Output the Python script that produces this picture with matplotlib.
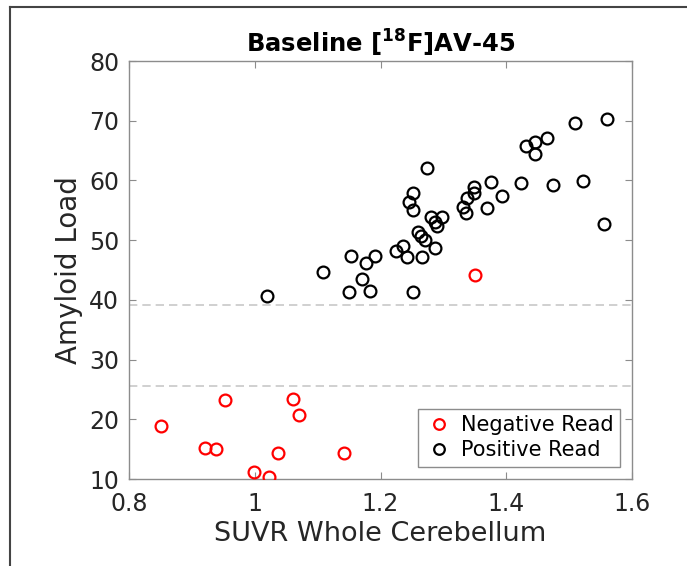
import matplotlib
matplotlib.use('Agg')
import matplotlib.pyplot as plt
from matplotlib.lines import Line2D

# SUVR / amyloid load values
neg_suvr = [0.851, 0.953, 1.061, 1.071, 0.921, 0.938, 1.037, 1.142, 0.999, 1.023, 1.351]
neg_load = [18.9, 23.3, 23.4, 20.7, 15.2, 15.1, 14.4, 14.4, 11.2, 10.4, 44.2]

pos_suvr = [1.019, 1.108, 1.153, 1.177, 1.192, 1.170, 1.150, 1.183,
            1.225, 1.235, 1.242, 1.251, 1.245, 1.252, 1.251, 1.274,
            1.259, 1.265, 1.270, 1.266, 1.287, 1.280, 1.286, 1.290,
            1.298, 1.331, 1.336, 1.337, 1.349, 1.349, 1.369, 1.376,
            1.393, 1.423, 1.432, 1.446, 1.446, 1.464, 1.474, 1.510,
            1.522, 1.556, 1.560]
pos_load = [40.7, 44.7, 47.4, 46.1, 47.4, 43.5, 41.3, 41.5,
            48.2, 49.1, 47.1, 41.4, 56.4, 57.9, 55.1, 62.1,
            51.3, 50.7, 50.1, 47.2, 48.7, 53.9, 53.1, 52.3,
            53.9, 55.5, 54.5, 57.1, 58.9, 57.9, 55.4, 59.8,
            57.4, 59.6, 65.8, 66.4, 64.4, 67.1, 59.2, 69.6,
            59.9, 52.7, 70.3]

thresholds = [39.1, 25.6]
xticks = [0.8, 1.0, 1.2, 1.4, 1.6]
xtick_labels = ['0.8', '1', '1.2', '1.4', '1.6']
yticks = [10, 20, 30, 40, 50, 60, 70, 80]

text_col = '#262626'
axis_col = '#8c8c8c'

fig = plt.figure(figsize=(6.87, 5.66), dpi=100)
ax = fig.add_axes([0.1878, 0.1537, 0.7322, 0.7385])

for t in thresholds:
    ax.axhline(t, color='#c8c8c8', linestyle=(0, (5, 3)), linewidth=1.2, zorder=1)

ax.plot(neg_suvr, neg_load, linestyle='none', marker='o', markersize=8.5,
        markerfacecolor='none', markeredgecolor='red', markeredgewidth=1.6,
        label='Negative Read', zorder=3)
ax.plot(pos_suvr, pos_load, linestyle='none', marker='o', markersize=8.5,
        markerfacecolor='none', markeredgecolor='black', markeredgewidth=1.6,
        label='Positive Read', zorder=3)

ax.set_xlim(0.8, 1.6)
ax.set_ylim(10, 80)
ax.set_xticks(xticks)
ax.set_xticklabels(xtick_labels)
ax.set_yticks(yticks)
ax.tick_params(direction='in', length=5, width=0.8, color=axis_col,
               labelsize=17, labelcolor=text_col, top=True, right=True)
ax.tick_params(axis='x', pad=9)
ax.tick_params(axis='y', pad=7)
for s in ax.spines.values():
    s.set_color(axis_col)
    s.set_linewidth(1.0)

ax.set_xlabel('SUVR Whole Cerebellum', fontsize=19.5, color=text_col, labelpad=4)
ax.set_ylabel('Amyloid Load', fontsize=20, color=text_col, labelpad=4)
ax.set_title(r'Baseline [$^{\mathbf{18}}$F]AV-45', fontsize=17.5, fontweight='bold',
             color='black', pad=6)

leg = ax.legend(loc='lower right', fontsize=15, markerscale=0.9, handletextpad=0.35,
                handlelength=1.4, borderpad=0.3, labelspacing=0.25,
                fancybox=False, framealpha=1, borderaxespad=0.6)
leg.get_frame().set_edgecolor(axis_col)
leg.get_frame().set_linewidth(1.0)

# outer frame lines around the picture
fig.add_artist(Line2D([10 / 687, 1.0], [1 - 7 / 566, 1 - 7 / 566],
                      transform=fig.transFigure, color='#444444', linewidth=1.5))
fig.add_artist(Line2D([10 / 687, 10 / 687], [0.0, 1 - 7 / 566],
                      transform=fig.transFigure, color='#444444', linewidth=1.5))

fig.savefig('out.png', dpi=100)
